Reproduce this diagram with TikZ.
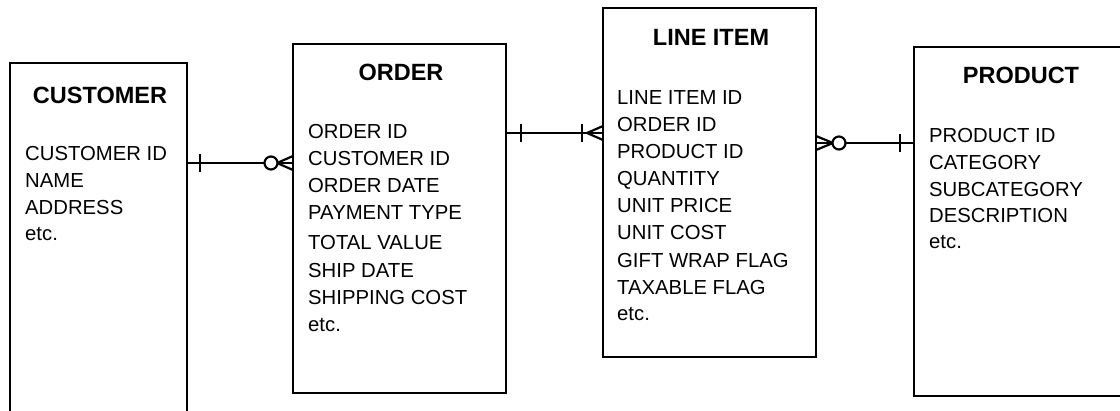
\documentclass[tikz,border=0pt]{standalone}
\usepackage{fontspec}
\setmainfont{Liberation Sans}
\begin{document}
\begin{tikzpicture}[x=1pt,y=-1pt,
  box/.style={draw, line width=2.2pt, inner sep=0pt, outer sep=0pt, anchor=north west},
  title/.style={font=\fontsize{23.5}{28}\selectfont\bfseries, anchor=base, inner sep=0pt},
  field/.style={font=\fontsize{20.3}{27}\selectfont, anchor=base west, inner sep=0pt},
  conn/.style={line width=2.2pt},
  ring/.style={draw, circle, line width=2.2pt, fill=white, minimum size=13pt, inner sep=0pt}]
\useasboundingbox (0,0) rectangle (1120,410);
\clip (0,0) rectangle (1120,410);
\fill[white] (0,0) rectangle (1120,410);
% boxes
\node[box, minimum width=177pt, minimum height=380pt] (cust) at (10,63) {};
\node[box, minimum width=213pt, minimum height=349pt] (order) at (293,44) {};
\node[box, minimum width=213pt, minimum height=349pt] (line) at (603,8) {};
\node[box, minimum width=230pt, minimum height=349pt] (prod) at (914,47) {};
% titles
\node[title] (tcust) at (100,103) {CUSTOMER};
\node[title] (torder) at (401,80) {ORDER};
\node[title] (tline) at (711,45) {LINE ITEM};
\node[title] (tprod) at (1021,83) {PRODUCT};
% fields
\foreach \t/\y [count=\i] in {CUSTOMER ID/160, NAME/187, ADDRESS/214, etc./240}
  \node[field] (fc\i) at (25,\y) {\t};
\foreach \t/\y [count=\i] in {ORDER ID/138, CUSTOMER ID/165, ORDER DATE/192, PAYMENT TYPE/219, TOTAL VALUE/249, SHIP DATE/277, SHIPPING COST/304, etc./331}
  \node[field] (fo\i) at (308,\y) {\t};
\foreach \t/\y [count=\i] in {LINE ITEM ID/104, ORDER ID/131, PRODUCT ID/158, QUANTITY/185, UNIT PRICE/212, UNIT COST/239, GIFT WRAP FLAG/267, TAXABLE FLAG/294, etc./320}
  \node[field] (fl\i) at (617,\y) {\t};
\foreach \t/\y [count=\i] in {PRODUCT ID/142, CATEGORY/169, SUBCATEGORY/196, DESCRIPTION/222, etc./248}
  \node[field] (fp\i) at (929,\y) {\t};
% connector levels
\coordinate (y1) at (0,163);
\coordinate (y2) at (0,133);
\coordinate (y3) at (0,143);
\coordinate (a1) at (cust.east |- y1);
\coordinate (a2) at (order.west |- y1);
\coordinate (b1) at (order.east |- y2);
\coordinate (b2) at (line.west |- y2);
\coordinate (c1) at (line.east |- y3);
\coordinate (c2) at (prod.west |- y3);
% customer - order
\draw[conn] (a1) -- (a2);
\draw[conn] ([xshift=13pt]a1) ++(0,-9) -- ++(0,18);
\draw[conn] ([yshift=7pt]a2) -- ([xshift=-16pt]a2) -- ([yshift=-7pt]a2);
\node[ring] (r1) at ([xshift=-22pt]a2) {};
% order - line item
\draw[conn] (b1) -- (b2);
\draw[conn] ([xshift=15pt]b1) ++(0,-9) -- ++(0,18);
\draw[conn] ([xshift=-21pt]b2) ++(0,-9) -- ++(0,18);
\draw[conn] ([yshift=7pt]b2) -- ([xshift=-16pt]b2) -- ([yshift=-7pt]b2);
% line item - product
\draw[conn] (c1) -- (c2);
\draw[conn] ([xshift=-14pt]c2) ++(0,-9) -- ++(0,18);
\draw[conn] ([yshift=7pt]c1) -- ([xshift=17pt]c1) -- ([yshift=-7pt]c1);
\node[ring] (r2) at ([xshift=23pt]c1) {};
\end{tikzpicture}
\end{document}
